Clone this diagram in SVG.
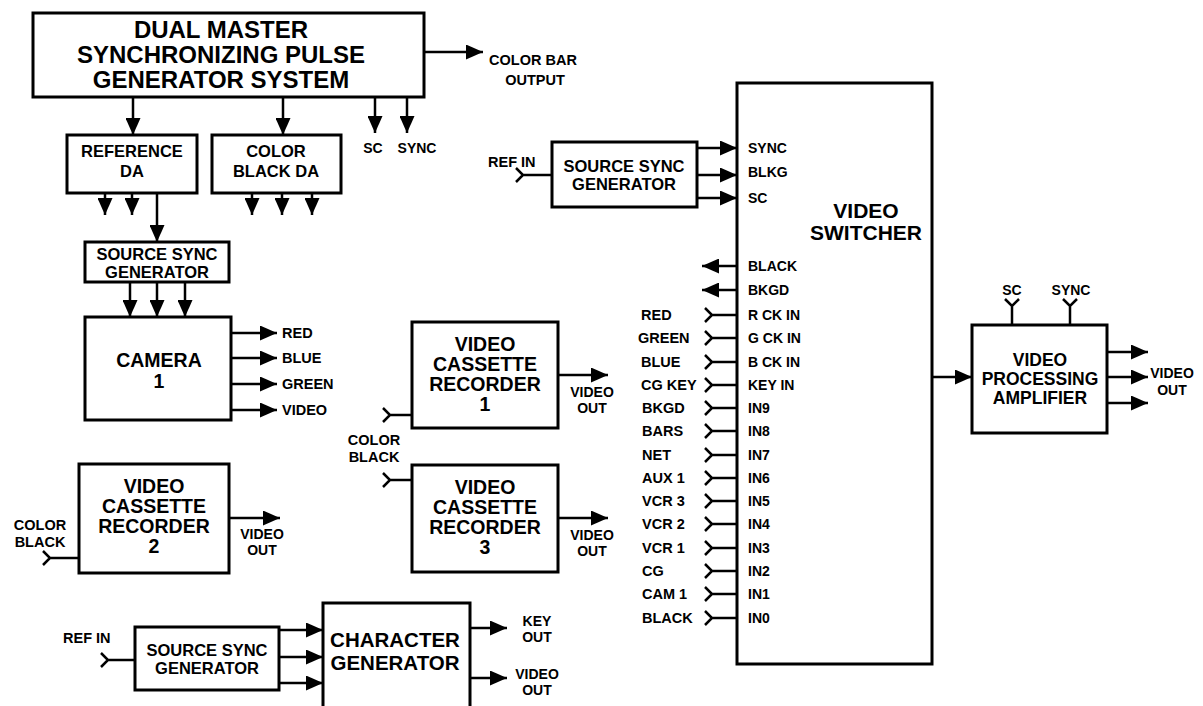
<svg xmlns="http://www.w3.org/2000/svg" width="1203" height="706" viewBox="0 0 1203 706">
<style>
.box{fill:#fff;stroke:#000;stroke-width:3}
.ln{fill:none;stroke:#000;stroke-width:2.5}
.a{marker-end:url(#ah)}
text{font-family:"Liberation Sans",Arial,sans-serif;font-weight:bold;fill:#000}
.t24{font-size:24px;text-anchor:middle}
.t21{font-size:19.5px;text-anchor:middle}
.t18{font-size:16.5px;text-anchor:middle}
.t15{font-size:14.5px}
.s{font-size:14px}
.c{text-anchor:middle}
</style>
<defs>
<marker id="ah" markerUnits="userSpaceOnUse" markerWidth="17" markerHeight="15" viewBox="0 0 17 15" refX="17" refY="7.5" orient="auto"><path d="M0,0 L17,7.5 L0,15 z" fill="#000"/></marker>
</defs>
<rect width="1203" height="706" fill="#fff"/>

<g id="master">
<rect class="box" x="33" y="13" width="391" height="84"/>
<text class="t24" x="221" y="38">DUAL MASTER</text>
<text class="t24" x="221" y="63">SYNCHRONIZING PULSE</text>
<text class="t24" x="221" y="88">GENERATOR SYSTEM</text>
</g>
<g id="colorbar-label">
<text class="t15 c" x="533" y="65">COLOR BAR</text>
<text class="t15 c" x="535" y="85">OUTPUT</text>
</g>
<g id="sc-sync-labels">
<text class="s c" x="373" y="153">SC</text>
<text class="s c" x="417" y="153">SYNC</text>
</g>
<g id="refda">
<rect class="box" x="67" y="135" width="130" height="58"/>
<text class="t18" x="132" y="157">REFERENCE</text>
<text class="t18" x="132" y="177">DA</text>
</g>
<g id="colorblackda">
<rect class="box" x="212" y="135" width="129" height="58"/>
<text class="t18" x="276" y="157">COLOR</text>
<text class="t18" x="276" y="177">BLACK DA</text>
</g>
<g id="ssg-camera">
<rect class="box" x="85" y="242" width="144" height="40"/>
<text class="t18" x="157" y="260">SOURCE SYNC</text>
<text class="t18" x="157" y="278">GENERATOR</text>
</g>
<g id="camera">
<rect class="box" x="85" y="317" width="146" height="103"/>
<text class="t21" x="159" y="367">CAMERA</text>
<text class="t21" x="159" y="388">1</text>
<text class="t15" x="282" y="338">RED</text>
<text class="t15" x="282" y="363">BLUE</text>
<text class="t15" x="282" y="389">GREEN</text>
<text class="t15" x="282" y="415">VIDEO</text>
</g>
<g id="vcr1">
<rect class="box" x="412" y="322" width="146" height="106"/>
<text class="t21" x="485" y="351">VIDEO</text>
<text class="t21" x="485" y="371">CASSETTE</text>
<text class="t21" x="485" y="391">RECORDER</text>
<text class="t21" x="485" y="411">1</text>
<text class="s c" x="592" y="397">VIDEO</text>
<text class="s c" x="592" y="413">OUT</text>
</g>
<g id="colorblack-label">
<text class="t15 c" x="374" y="445">COLOR</text>
<text class="t15 c" x="374" y="462">BLACK</text>
</g>
<g id="vcr3">
<rect class="box" x="412" y="465" width="146" height="107"/>
<text class="t21" x="485" y="494">VIDEO</text>
<text class="t21" x="485" y="514">CASSETTE</text>
<text class="t21" x="485" y="534">RECORDER</text>
<text class="t21" x="485" y="554">3</text>
<text class="s c" x="592" y="540">VIDEO</text>
<text class="s c" x="592" y="556">OUT</text>
</g>
<g id="vcr2">
<rect class="box" x="79" y="464" width="150" height="109"/>
<text class="t21" x="154" y="493">VIDEO</text>
<text class="t21" x="154" y="513">CASSETTE</text>
<text class="t21" x="154" y="533">RECORDER</text>
<text class="t21" x="154" y="553">2</text>
<text class="t15 c" x="40" y="530">COLOR</text>
<text class="t15 c" x="40" y="547">BLACK</text>
<text class="s c" x="262" y="539">VIDEO</text>
<text class="s c" x="262" y="555">OUT</text>
</g>
<g id="ssg-cg">
<rect class="box" x="135" y="627" width="144" height="63"/>
<text class="t18" x="207" y="656">SOURCE SYNC</text>
<text class="t18" x="207" y="674">GENERATOR</text>
<text class="t15" x="63" y="643">REF IN</text>
</g>
<g id="chargen">
<path class="box" d="M323,712 V603 H470 V712"/>
<text class="t21" x="395" y="647" style="font-size:20.5px">CHARACTER</text>
<text class="t21" x="395" y="670" style="font-size:20.5px">GENERATOR</text>
<text class="s c" x="537" y="626">KEY</text>
<text class="s c" x="537" y="642">OUT</text>
<text class="s c" x="537" y="679">VIDEO</text>
<text class="s c" x="537" y="695">OUT</text>
</g>
<g id="ssg-switcher">
<rect class="box" x="552" y="142" width="145" height="65"/>
<text class="t18" x="624" y="172">SOURCE SYNC</text>
<text class="t18" x="624" y="190">GENERATOR</text>
<text class="t15" x="488" y="167">REF IN</text>
</g>
<g id="switcher">
<rect class="box" x="737" y="83" width="195" height="581"/>
<text class="t21" x="866" y="218" style="font-size:21px">VIDEO</text>
<text class="t21" x="866" y="240" style="font-size:21px">SWITCHER</text>
<g class="s">
<text x="748" y="153">SYNC</text>
<text x="748" y="177">BLKG</text>
<text x="748" y="203">SC</text>
<text x="748" y="271">BLACK</text>
<text x="748" y="295">BKGD</text>
<text x="748" y="320">R CK IN</text>
<text x="748" y="343">G CK IN</text>
<text x="748" y="367">B CK IN</text>
<text x="748" y="390">KEY IN</text>
<text x="748" y="413">IN9</text>
<text x="748" y="436">IN8</text>
<text x="748" y="460">IN7</text>
<text x="748" y="483">IN6</text>
<text x="748" y="506">IN5</text>
<text x="748" y="529">IN4</text>
<text x="748" y="553">IN3</text>
<text x="748" y="576">IN2</text>
<text x="748" y="599">IN1</text>
<text x="748" y="623">IN0</text>
</g>
</g>
<g id="switcher-sources" class="t15">
<text x="641" y="320">RED</text>
<text x="638" y="343">GREEN</text>
<text x="641" y="367">BLUE</text>
<text x="641" y="390">CG KEY</text>
<text x="642" y="413">BKGD</text>
<text x="642" y="436">BARS</text>
<text x="642" y="460">NET</text>
<text x="642" y="483">AUX 1</text>
<text x="642" y="506">VCR 3</text>
<text x="642" y="529">VCR 2</text>
<text x="642" y="553">VCR 1</text>
<text x="642" y="576">CG</text>
<text x="642" y="599">CAM 1</text>
<text x="642" y="623">BLACK</text>
</g>
<g id="procamp">
<rect class="box" x="972" y="325" width="135" height="108"/>
<text class="t18" x="1040" y="366" style="font-size:17.5px">VIDEO</text>
<text class="t18" x="1040" y="385" style="font-size:17.5px">PROCESSING</text>
<text class="t18" x="1040" y="404" style="font-size:17.5px">AMPLIFIER</text>
<text class="s c" x="1012" y="295">SC</text>
<text class="s c" x="1071" y="295">SYNC</text>
<text class="s c" x="1172" y="378">VIDEO</text>
<text class="s c" x="1172" y="395">OUT</text>
</g>

<g id="connectors" class="ln">
<path class="a" d="M424,52 H483"/>
<path class="a" d="M133,97 V135"/>
<path class="a" d="M283,97 V135"/>
<path class="a" d="M375,97 V133"/>
<path class="a" d="M407,97 V133"/>
<path class="a" d="M105,193 V215"/>
<path class="a" d="M132,193 V215"/>
<path class="a" d="M157,193 V242"/>
<path class="a" d="M252,193 V215"/>
<path class="a" d="M282,193 V215"/>
<path class="a" d="M312,193 V215"/>
<path class="a" d="M130,282 V317"/>
<path class="a" d="M157,282 V317"/>
<path class="a" d="M185,282 V317"/>
<path class="a" d="M231,333 H277"/>
<path class="a" d="M231,358 H277"/>
<path class="a" d="M231,384 H277"/>
<path class="a" d="M231,410 H277"/>
<path d="M383,408 L390,415 L383,422 M390,415 H412"/>
<path class="a" d="M558,375 H608"/>
<path d="M383,473 L390,480 L383,487 M390,480 H412"/>
<path class="a" d="M558,518 H608"/>
<path d="M43,551 L50,558 L43,565 M50,558 H79"/>
<path class="a" d="M229,518 H280"/>
<path d="M101,653 L108,660 L101,667 M108,660 H135"/>
<path class="a" d="M279,630 H323"/>
<path class="a" d="M279,657 H323"/>
<path class="a" d="M279,683 H323"/>
<path class="a" d="M470,628 H507"/>
<path class="a" d="M470,678 H507"/>
<path d="M516,168 L523,175 L516,182 M523,175 H552"/>
<path class="a" d="M697,148 H737"/>
<path class="a" d="M697,175 H737"/>
<path class="a" d="M697,198 H737"/>
<path class="a" d="M737,266 H702"/>
<path class="a" d="M737,290 H702"/>
<path class="a" d="M932,377 H972"/>
<path d="M705,308 L712,315 L705,322 M712,315 H737"/>
<path d="M705,331 L712,338 L705,345 M712,338 H737"/>
<path d="M705,355 L712,362 L705,369 M712,362 H737"/>
<path d="M705,378 L712,385 L705,392 M712,385 H737"/>
<path d="M705,401 L712,408 L705,415 M712,408 H737"/>
<path d="M705,424 L712,431 L705,438 M712,431 H737"/>
<path d="M705,448 L712,455 L705,462 M712,455 H737"/>
<path d="M705,471 L712,478 L705,485 M712,478 H737"/>
<path d="M705,494 L712,501 L705,508 M712,501 H737"/>
<path d="M705,517 L712,524 L705,531 M712,524 H737"/>
<path d="M705,541 L712,548 L705,555 M712,548 H737"/>
<path d="M705,564 L712,571 L705,578 M712,571 H737"/>
<path d="M705,587 L712,594 L705,601 M712,594 H737"/>
<path d="M705,611 L712,618 L705,625 M712,618 H737"/>
<path d="M1005,299 L1012,306 L1019,299 M1012,306 V325"/>
<path d="M1063,299 L1070,306 L1077,299 M1070,306 V325"/>
<path class="a" d="M1107,352 H1148"/>
<path class="a" d="M1107,377 H1148"/>
<path class="a" d="M1107,403 H1148"/>
</g>
</svg>
